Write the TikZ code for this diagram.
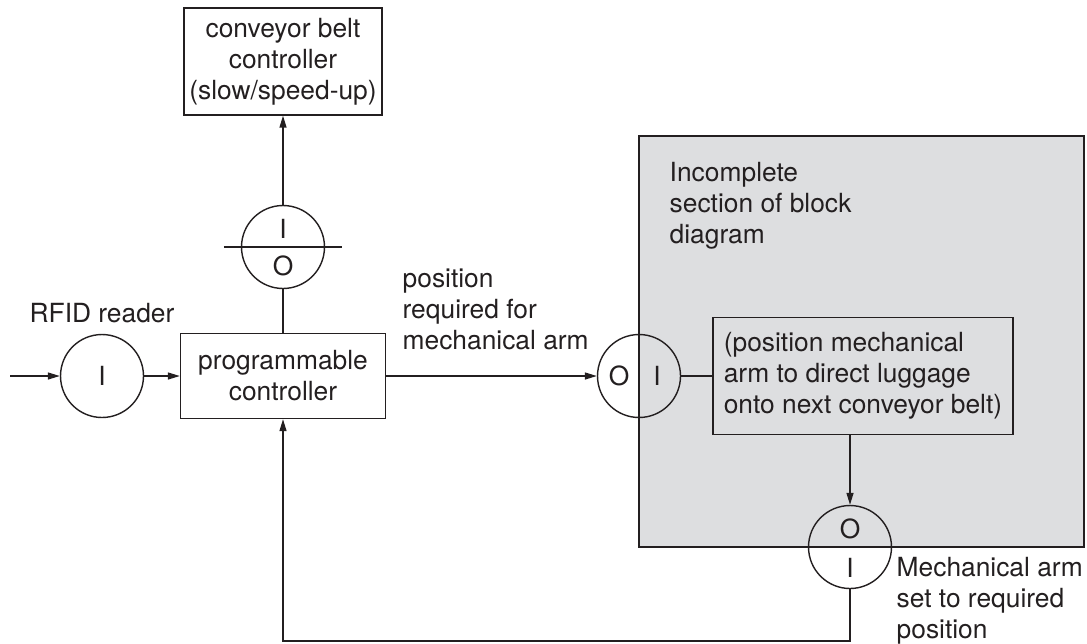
\documentclass[tikz,border=0pt]{standalone}
\usepackage{fontspec}
\setmainfont{TeX Gyre Heros}
\usetikzlibrary{arrows.meta}
\definecolor{ink}{RGB}{35,31,32}
\definecolor{panelgray}{RGB}{221,222,224}

\begin{document}
\begin{tikzpicture}[x=0.02cm, y=-0.02cm, line width=0.8pt, draw=ink, text=ink,
		font=\fontsize{15}{17.6}\selectfont,
		box/.style={draw, align=center, inner sep=0pt},
		io/.style={draw, circle, minimum size=1.66cm, inner sep=0pt},
		lbl/.style={align=left, anchor=north west, inner sep=0pt},
		arr/.style={-{Triangle[length=2.4mm, width=1.4mm]}}]
		\useasboundingbox (0, 0) rectangle (1087, 643);
		% incomplete section
		\path[fill=panelgray, draw=ink] (639, 136) rectangle (1084, 547);
		\node[lbl] (incl) at (669, 162) {Incomplete\\section of block\\diagram};
		\node[box, fill=panelgray, align=left, minimum width=6cm, minimum height=2.34cm] (arm) at (863, 376) {(position mechanical\\arm to direct luggage\\onto next conveyor belt)};
		% boxes
		\node[box, minimum width=3.96cm, minimum height=2.14cm] (belt) at (283, 61.5) {conveyor belt\\controller\\(slow/speed-up)};
		\node[box, minimum width=4.1cm, minimum height=1.7cm] (pc) at (283, 376) {programmable\\controller};
		% interfaces
		\node[io] (rfid) at (102, 376) {I};
		\node[anchor=base] (rfidl) at (102, 322) {RFID reader};
		\node[io] (io1) at (283, 247) {};
		\node (io1i) at (283, 229) {I};
		\node (io1o) at (283, 266) {O};
		\node[io] (oi) at (639, 376) {};
		\node (oio) at (619, 376) {O};
		\node (oii) at (657, 376) {I};
		\node[io] (io2) at (850, 547) {};
		\node (io2o) at (850, 529) {O};
		\node (io2i) at (850, 568) {I};
		\draw ([xshift=-0.34cm]io1.west) -- ([xshift=0.34cm]io1.east);
		% labels
		\node[lbl] (posl) at (402, 268) {position\\required for\\mechanical arm};
		\node[lbl] (setl) at (896, 557) {Mechanical arm\\set to required\\position};
		% connections
		\coordinate (src) at (10, 376);
		\coordinate (fb) at (850, 641);
		\draw[arr] (src) -- (rfid);
		\draw[arr] (rfid) -- (pc);
		\draw (pc) -- (io1);
		\draw[arr] (io1) -- (belt);
		\draw[arr] (pc) -- (oi);
		\draw (oi) -- (arm);
		\draw[arr] (arm.south -| io2) -- (io2);
		\draw[arr] (io2) -- (fb) -| (pc);
	\end{tikzpicture}
\end{document}
